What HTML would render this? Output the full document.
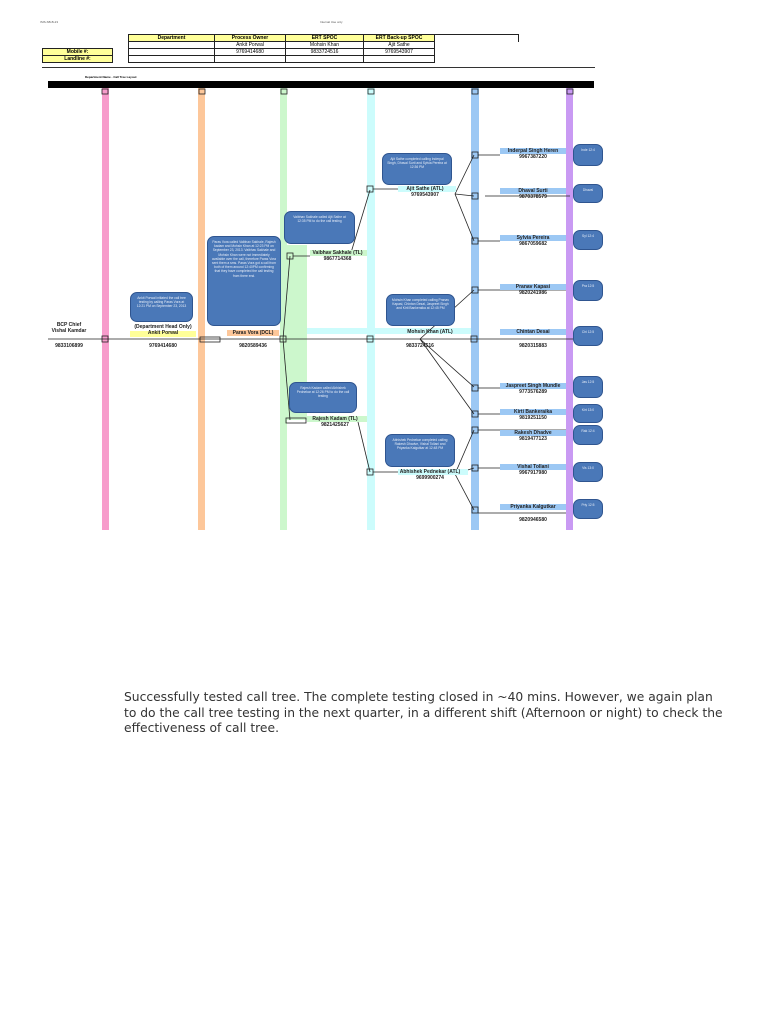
<!DOCTYPE html>
<html><head><meta charset="utf-8"><style>
body{margin:0;width:768px;height:1024px;background:#fff;position:relative;overflow:hidden;font-family:"Liberation Sans",sans-serif}
.a{position:absolute}
.t{position:absolute;font-size:5px;text-align:center;white-space:nowrap;font-weight:bold;color:#222}
.c{position:absolute;background:#4a78b8;border:1px solid #2f5590;border-radius:7px;color:#e8eef8;font-size:3.3px;text-align:center;line-height:4.2px;padding:3px 4px;box-sizing:border-box;overflow:hidden}
table{border-collapse:collapse;position:absolute;font-size:5px}
td{border:1px solid #222;height:6px;padding:0;text-align:center;line-height:6px}
.y{background:#ffff99;font-weight:bold}
.nb{position:absolute;background:#9cc8f4;height:6px}
</style></head><body>
<div class="a" style="left:40px;top:20px;font-size:3px;color:#555">ISIS-SB-B-23</div>
<div class="a" style="left:320px;top:20px;font-size:3px;color:#555">Internal Use only</div>
<table style="left:128px;top:34px;width:307px">
<tr><td class="y" style="width:85px">Department</td><td class="y" style="width:70px">Process Owner</td><td class="y" style="width:77px">ERT SPOC</td><td class="y">ERT Back-up SPOC</td></tr>
<tr><td></td><td>Ankit Porwal</td><td>Mohsin Khan</td><td>Ajit Sathe</td></tr>
<tr><td></td><td>9769414680</td><td>9833724516</td><td>9769543907</td></tr>
<tr><td></td><td></td><td></td><td></td></tr>
</table>
<table style="left:42px;top:48px;width:71px"><tr><td class="y">Mobile #:</td></tr><tr><td class="y">Landline #:</td></tr></table>
<div class="a" style="left:435px;top:34px;width:83px;height:7px;border-top:1px solid #222;border-right:1px solid #222"></div>
<div class="a" style="left:42px;top:67px;width:553px;height:1px;background:#333"></div>
<div class="a" style="left:85px;top:75px;font-size:3px;font-weight:bold">Department Name - Call Tree Layout</div>
<div class="a" style="left:48px;top:81px;width:546px;height:7px;background:#000"></div>

<div class="a" style="left:102px;top:88px;width:7px;height:442px;background:#f79ccb"></div>
<div class="a" style="left:198px;top:88px;width:7px;height:442px;background:#fdc79a"></div>
<div class="a" style="left:280px;top:88px;width:7px;height:442px;background:#ccf7cc"></div>
<div class="a" style="left:287px;top:245px;width:20px;height:175px;background:#ccf7cc"></div>
<div class="a" style="left:367px;top:88px;width:8px;height:442px;background:#ccfcfc"></div>
<div class="a" style="left:471px;top:88px;width:8px;height:442px;background:#9cc8f4"></div>
<div class="a" style="left:566px;top:88px;width:7px;height:442px;background:#c99af3"></div>
<div class="a" style="left:307px;top:328px;width:164px;height:6px;background:#ccfcfc"></div>

<svg class="a" style="left:0;top:0" width="768" height="1024">
<g fill="none" stroke="#222" stroke-width="0.8">
<rect x="102" y="89" width="6" height="5"/><rect x="199" y="89" width="6" height="5"/><rect x="281" y="89" width="6" height="5"/><rect x="368" y="89" width="6" height="5"/><rect x="472" y="89" width="6" height="5"/><rect x="567" y="89" width="6" height="5"/>
<line x1="48" y1="339" x2="590" y2="339"/>
<rect x="102" y="336" width="6" height="6"/><rect x="200" y="337" width="20" height="5"/><rect x="280" y="336" width="6" height="6"/><rect x="367" y="336" width="6" height="6"/><rect x="471" y="336" width="6" height="6"/>
<line x1="283" y1="339" x2="290" y2="256"/><line x1="283" y1="339" x2="290" y2="420"/>
<rect x="287" y="253" width="6" height="6"/><line x1="293" y1="256" x2="310" y2="256"/>
<rect x="286" y="418" width="20" height="5"/>
<line x1="350" y1="256" x2="370" y2="190"/><rect x="367" y="186" width="6" height="6"/><line x1="373" y1="189" x2="398" y2="189"/>
<line x1="358" y1="422" x2="370" y2="472"/><rect x="367" y="469" width="6" height="6"/><line x1="373" y1="472" x2="398" y2="472"/>
<line x1="455" y1="194" x2="474" y2="155"/><line x1="455" y1="194" x2="474" y2="196"/><line x1="455" y1="194" x2="474" y2="241"/>
<line x1="420" y1="339" x2="474" y2="290"/><line x1="420" y1="339" x2="474" y2="387"/><line x1="420" y1="339" x2="474" y2="414"/>
<line x1="455" y1="474" x2="474" y2="430"/><line x1="455" y1="474" x2="474" y2="468"/><line x1="455" y1="474" x2="474" y2="510"/>
<rect x="472" y="152" width="6" height="6"/><line x1="478" y1="155" x2="500" y2="155"/>
<rect x="472" y="193" width="6" height="6"/><line x1="485" y1="196" x2="570" y2="196"/>
<rect x="472" y="238" width="6" height="6"/><line x1="478" y1="241" x2="500" y2="241"/>
<rect x="472" y="287" width="6" height="6"/><line x1="478" y1="290" x2="566" y2="290"/>
<rect x="472" y="385" width="6" height="6"/><line x1="478" y1="388" x2="566" y2="388"/>
<rect x="472" y="411" width="6" height="6"/><line x1="478" y1="414" x2="566" y2="414"/>
<rect x="472" y="427" width="6" height="6"/><line x1="478" y1="430" x2="566" y2="430"/>
<rect x="472" y="465" width="6" height="6"/><line x1="478" y1="468" x2="566" y2="468"/>
<rect x="472" y="507" width="6" height="6"/><line x1="478" y1="513" x2="566" y2="513"/>
</g></svg>

<div class="t" style="left:50px;top:322px;width:38px">BCP Chief<br>Vishal Kamdar</div>
<div class="t" style="left:50px;top:343px;width:38px">9833106899</div>
<div class="a" style="left:130px;top:331px;width:66px;height:6px;background:#ffff99"></div>
<div class="t" style="left:130px;top:324px;width:66px">(Department Head Only)<br>Ankit Porwal</div>
<div class="t" style="left:130px;top:343px;width:66px">9769414680</div>
<div class="a" style="left:227px;top:330px;width:52px;height:6px;background:#fdc79a"></div>
<div class="t" style="left:225px;top:330px;width:56px">Paras Vora (DCL)</div>
<div class="t" style="left:225px;top:343px;width:56px">9820589436</div>
<div class="a" style="left:310px;top:250px;width:57px;height:6px;background:#ccf7cc"></div>
<div class="t" style="left:305px;top:250px;width:65px">Vaibhav Sakhale (TL)<br>9867714368</div>
<div class="a" style="left:307px;top:416px;width:60px;height:6px;background:#ccf7cc"></div>
<div class="t" style="left:305px;top:416px;width:60px">Rajesh Kadam (TL)<br>9821425627</div>
<div class="a" style="left:398px;top:186px;width:58px;height:6px;background:#ccfcfc"></div>
<div class="t" style="left:395px;top:186px;width:60px">Ajit Sathe (ATL)<br>9769543907</div>
<div class="t" style="left:395px;top:329px;width:70px">Mohsin Khan (ATL)</div>
<div class="t" style="left:395px;top:343px;width:50px">9833724516</div>
<div class="a" style="left:398px;top:469px;width:70px;height:6px;background:#ccfcfc"></div>
<div class="t" style="left:395px;top:469px;width:70px">Abhishek Pednekar (ATL)<br>9699900274</div>

<div class="nb" style="left:500px;top:148px;width:66px"></div><div class="t" style="left:500px;top:148px;width:66px">Inderpal Singh Heren<br>9967387220</div>
<div class="nb" style="left:500px;top:188px;width:66px"></div><div class="t" style="left:500px;top:188px;width:66px">Dhaval Surti<br>9870378579</div>
<div class="nb" style="left:500px;top:235px;width:66px"></div><div class="t" style="left:500px;top:235px;width:66px">Sylvia Pereira<br>9867059682</div>
<div class="nb" style="left:500px;top:284px;width:66px"></div><div class="t" style="left:500px;top:284px;width:66px">Pranav Kapasi<br>9820241986</div>
<div class="nb" style="left:500px;top:329px;width:66px"></div><div class="t" style="left:500px;top:329px;width:66px">Chintan Desai</div><div class="t" style="left:500px;top:343px;width:66px">9820315883</div>
<div class="nb" style="left:500px;top:383px;width:66px"></div><div class="t" style="left:500px;top:383px;width:66px">Jaspreet Singh Mundle<br>9773576289</div>
<div class="nb" style="left:500px;top:409px;width:66px"></div><div class="t" style="left:500px;top:409px;width:66px">Kirti Bankeraika<br>9819251150</div>
<div class="nb" style="left:500px;top:430px;width:66px"></div><div class="t" style="left:500px;top:430px;width:66px">Rakesh Dhadve<br>9819477123</div>
<div class="nb" style="left:500px;top:464px;width:66px"></div><div class="t" style="left:500px;top:464px;width:66px">Vishal Tollani<br>9967917980</div>
<div class="nb" style="left:500px;top:504px;width:66px"></div><div class="t" style="left:500px;top:504px;width:66px">Priyanka Kalgutkar</div><div class="t" style="left:500px;top:517px;width:66px">9820946580</div>

<div class="c" style="left:130px;top:292px;width:63px;height:30px">Ankit Porwal initiated the call tree testing by calling Paras Vora at 12:21 PM on September 23, 2013</div>
<div class="c" style="left:207px;top:236px;width:74px;height:90px">Paras Vora called Vaibhav Sakhale, Rajesh kadam and Mohsin Khan at 12:23 PM on September 23, 2013. Vaibhav Sakhale and Mohsin Khan were not immediately available over the call, therefore Paras Vora sent them a sms. Paras Vora got a call from both of them around 12:40PM confirming that they have completed the call testing from there end.</div>
<div class="c" style="left:284px;top:211px;width:71px;height:33px">Vaibhav Sakhale called Ajit Sathe at 12:35 PM to do the call testing</div>
<div class="c" style="left:382px;top:153px;width:70px;height:32px">Ajit Sathe completed calling Inderpal Singh, Dhaval Surti and Sylvia Pereira at 12:36 PM</div>
<div class="c" style="left:386px;top:294px;width:69px;height:32px">Mohsin Khan completed calling Pranav Kapasi, Chintan Desai, Jaspreet Singh and Kirti Bankeraika at 12:45 PM</div>
<div class="c" style="left:289px;top:382px;width:68px;height:31px">Rajesh Kadam called Abhishek Pednekar at 12:26 PM to do the call testing</div>
<div class="c" style="left:385px;top:434px;width:70px;height:33px">Abhishek Pednekar completed calling Rakesh Dhadve, Vishal Tollani and Priyanka Kalgutkar at 12:48 PM</div>

<div class="c" style="left:573px;top:144px;width:30px;height:22px">Inde 12:4</div>
<div class="c" style="left:573px;top:184px;width:30px;height:19px">Dhaval</div>
<div class="c" style="left:573px;top:230px;width:30px;height:20px">Syl 12:4</div>
<div class="c" style="left:573px;top:280px;width:30px;height:21px">Pra 12:5</div>
<div class="c" style="left:573px;top:326px;width:30px;height:20px">Chi 12:5</div>
<div class="c" style="left:573px;top:376px;width:30px;height:22px">Jas 12:5</div>
<div class="c" style="left:573px;top:404px;width:30px;height:19px">Kirt 13:0</div>
<div class="c" style="left:573px;top:425px;width:30px;height:20px">Rak 12:4</div>
<div class="c" style="left:573px;top:462px;width:30px;height:20px">Vis 13:0</div>
<div class="c" style="left:573px;top:499px;width:30px;height:20px">Priy 12:5</div>
<div class="a" style="left:603px;top:88px;width:165px;height:450px;background:#fff"></div>

<div class="a" style="left:124px;top:690px;width:600px;font-family:'DejaVu Sans',sans-serif;font-size:12.3px;line-height:15.5px;color:#333">Successfully tested call tree. The complete testing closed in ~40 mins. However, we again plan to do the call tree testing in the next quarter, in a different shift (Afternoon or night) to check the effectiveness of call tree.</div>
</body></html>
